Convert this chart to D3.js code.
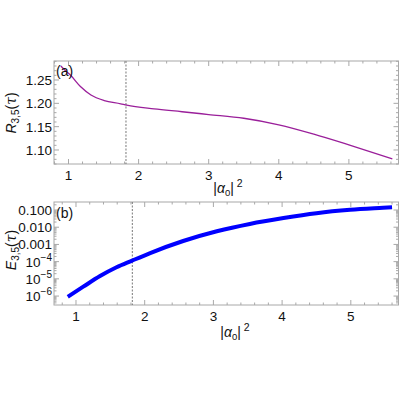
<!DOCTYPE html>
<html>
<head>
<meta charset="utf-8">
<script src="https://cdn.jsdelivr.net/npm/d3@7"></script>
<style>
body { margin: 0; background: #fff; }
text { font-family: "Liberation Sans", Arial, sans-serif; }
</style>
</head>
<body>
<div id="chart"></div>
<script>
// panel (a): ratio R_{3,5}
var xA = [0.89, 0.95, 1.03, 1.17, 1.32, 1.51, 1.745, 1.83, 2.22, 2.62, 3.0, 3.5, 4.0, 4.5, 5.0, 5.62];
var rA = [1.280, 1.271, 1.260, 1.236, 1.218, 1.206, 1.199, 1.196, 1.188, 1.182, 1.176, 1.168, 1.154, 1.134, 1.111, 1.081];
// panel (b): error E_{3,5}
var xB = [0.88, 1.106, 1.35, 1.59, 1.81, 2.08, 2.56, 3.05, 3.53, 4.02, 4.5, 4.99, 5.47, 5.6];
var eB = [9.1e-7, 3.5e-6, 1.45e-5, 4.7e-5, 1.12e-4, 3.16e-4, 1.58e-3, 5.8e-3, 1.55e-2, 3.4e-2, 6.5e-2, 0.102, 0.135, 0.145];
var markX = 1.82;
var xTicks = [1, 2, 3, 4, 5];
var rTicks = [1.10, 1.15, 1.20, 1.25];
var eTicks = [1e-6, 1e-5, 1e-4, 1e-3, 1e-2, 1e-1];
var eTickLabels = [["10", "\u22126"], ["10", "\u22125"], ["10", "\u22124"], ["0.001"], ["0.010"], ["0.100"]];

var W = 400, H = 400;
var svg = d3.select("#chart").append("svg").attr("width", W).attr("height", H);

var frameCol = "#a8a8a8";
var textCol = "#111";
var left = 54, right = 398.5;

function drawFrame(g, top, bottom) {
	g.append("rect")
		.attr("x", left).attr("y", top)
		.attr("width", right - left).attr("height", bottom - top)
		.attr("fill", "none").attr("stroke", frameCol).attr("stroke-width", 1);
}

function xTickMarks(g, x, top, bottom) {
	var minor = d3.range(0.2, 6.0, 0.2).filter(function(v) {
		return v >= x.domain()[0] && v <= x.domain()[1];
	});
	minor.forEach(function(v) {
		var isMajor = Math.abs(v - Math.round(v)) < 1e-6;
		var len = isMajor ? 5 : 2.5;
		var px = x(v);
		g.append("line").attr("x1", px).attr("x2", px).attr("y1", bottom).attr("y2", bottom - len)
			.attr("stroke", frameCol);
		g.append("line").attr("x1", px).attr("x2", px).attr("y1", top).attr("y2", top + len)
			.attr("stroke", frameCol);
	});
	xTicks.forEach(function(v) {
		g.append("text").attr("x", x(v)).attr("y", bottom + 16)
			.attr("text-anchor", "middle").attr("font-size", "13.5px").attr("fill", textCol)
			.text(v);
	});
}

function alphaLabel(g, cx, y) {
	var t = g.append("text").attr("x", cx).attr("y", y).attr("text-anchor", "middle")
		.attr("font-size", "14px").attr("fill", textCol);
	t.append("tspan").text("|");
	t.append("tspan").attr("font-style", "italic").text("\u03b1");
	t.append("tspan").attr("font-size", "9.5px").attr("dy", 3).text("0");
	t.append("tspan").attr("dy", -3).text("|");
	t.append("tspan").attr("font-size", "10.5px").attr("dy", -6).attr("dx", 3).text("2");
}

function yLabel(g, cx, cy, letter) {
	var t = g.append("text").attr("transform", "translate(" + cx + "," + cy + ") rotate(-90)")
		.attr("text-anchor", "middle").attr("font-size", "14px").attr("fill", textCol);
	t.append("tspan").attr("font-style", "italic").text(letter);
	t.append("tspan").attr("font-size", "10px").attr("dy", 3).text("3,5");
	t.append("tspan").attr("dy", -3).text("(");
	t.append("tspan").attr("font-style", "italic").attr("font-family", "DejaVu Serif").text("\u03c4");
	t.append("tspan").text(")");
}

// ---------- panel (a) ----------
var topA = 61, botA = 164;
var xa = d3.scaleLinear().domain([0.793, 5.708]).range([left, right]);
var ya = d3.scaleLinear().domain([1.070, 1.2907]).range([botA, topA]);
var ga = svg.append("g");

drawFrame(ga, topA, botA);
xTickMarks(ga, xa, topA, botA);

d3.range(1.07, 1.291, 0.01).forEach(function(v) {
	var isMajor = Math.abs(v * 20 - Math.round(v * 20)) < 1e-6;
	var len = isMajor ? 5 : 2.5;
	var py = ya(v);
	ga.append("line").attr("x1", left).attr("x2", left + len).attr("y1", py).attr("y2", py).attr("stroke", frameCol);
	ga.append("line").attr("x1", right).attr("x2", right - len).attr("y1", py).attr("y2", py).attr("stroke", frameCol);
});
rTicks.forEach(function(v) {
	ga.append("text").attr("x", left - 2).attr("y", ya(v) + 5)
		.attr("text-anchor", "end").attr("font-size", "13.5px").attr("fill", textCol)
		.text(v.toFixed(2));
});

ga.append("line").attr("x1", xa(markX)).attr("x2", xa(markX)).attr("y1", topA).attr("y2", botA)
	.attr("stroke", "#777").attr("stroke-width", 1).attr("stroke-dasharray", "2,1.5");

var lineA = d3.line()
	.x(function(d, i) { return xa(xA[i]); })
	.y(function(d) { return ya(d); })
	.curve(d3.curveMonotoneX);
ga.append("path").datum(rA).attr("d", lineA)
	.attr("fill", "none").attr("stroke", "#9a1f9a").attr("stroke-width", 1.3);

ga.append("text").attr("x", 56).attr("y", 76).attr("font-size", "14px").attr("fill", textCol).text("(a)");
alphaLabel(ga, 228, 193);
yLabel(ga, 16, 113, "R");

// ---------- panel (b) ----------
var topB = 202, botB = 305;
var xb = d3.scaleLinear().domain([0.680, 5.694]).range([left, right]);
var yb = d3.scaleLog().domain([Math.pow(10, -6.52), Math.pow(10, -0.535)]).range([botB, topB]);
var gb = svg.append("g");

drawFrame(gb, topB, botB);
xTickMarks(gb, xb, topB, botB);

for (var p = -7; p <= -1; p++) {
	for (var m = 1; m <= 9; m++) {
		var v = m * Math.pow(10, p);
		if (v < yb.domain()[0] || v > yb.domain()[1]) continue;
		var len = m === 1 ? 5 : 2.5;
		var py = yb(v);
		gb.append("line").attr("x1", left).attr("x2", left + len).attr("y1", py).attr("y2", py).attr("stroke", frameCol);
		gb.append("line").attr("x1", right).attr("x2", right - len).attr("y1", py).attr("y2", py).attr("stroke", frameCol);
	}
}
eTicks.forEach(function(v, i) {
	var lab = eTickLabels[i];
	var t = gb.append("text").attr("x", left - 2).attr("y", yb(v) + 5)
		.attr("text-anchor", "end").attr("font-size", "13.5px").attr("fill", textCol);
	if (lab.length === 1) {
		t.text(lab[0]);
	} else {
		t.append("tspan").text(lab[0]);
		t.append("tspan").attr("font-size", "10px").attr("dy", -6).text(lab[1]);
	}
});

gb.append("line").attr("x1", xb(markX)).attr("x2", xb(markX)).attr("y1", topB).attr("y2", botB)
	.attr("stroke", "#777").attr("stroke-width", 1).attr("stroke-dasharray", "2,1.5");

var lineB = d3.line()
	.x(function(d, i) { return xb(xB[i]); })
	.y(function(d) { return yb(d); })
	.curve(d3.curveMonotoneX);
gb.append("path").datum(eB).attr("d", lineB)
	.attr("fill", "none").attr("stroke", "#0000ff").attr("stroke-width", 4);

gb.append("text").attr("x", 56).attr("y", 218).attr("font-size", "14px").attr("fill", textCol).text("(b)");
alphaLabel(gb, 235, 337);
yLabel(gb, 16, 250, "E");
</script>
</body>
</html>
